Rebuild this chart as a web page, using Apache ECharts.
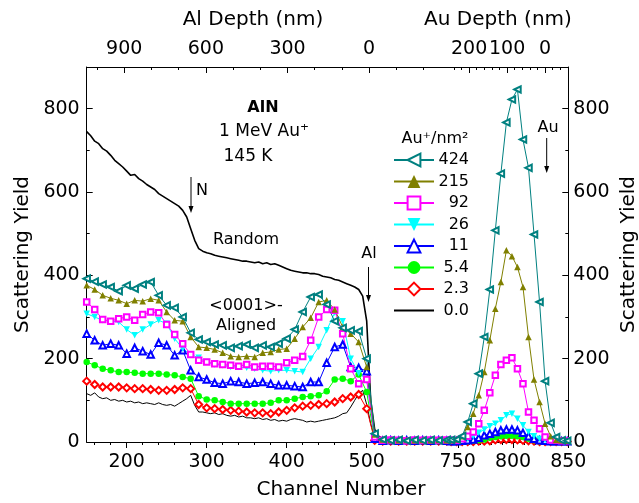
<!DOCTYPE html>
<html><head><meta charset="utf-8">
<script src="https://cdn.jsdelivr.net/npm/echarts@6/dist/echarts.min.js"></script>
<style>html,body{margin:0;padding:0;background:#fff}#c{width:639px;height:503px}</style>
</head><body><div id="c"></div>
<script>
// ---- channels ----
const chL = [150,160,170,180,190,200,210,220,230,240,250,260,270,280,290,300,310,320,330,340,350,360,370,380,390,400,410,420,430,440,450,460,470,480,490,500,510,520,530,540,550,560,570,580,590,600];
const chF = [150,155,160,165,170,175,180,185,190,195,200,205,210,215,220,225,230,235,240,245,250,255,260,265,270,275,280,285,290,295,300,305,310,315,320,325,330,335,340,345,350,355,360,365,370,375,380,385,390,395,400,405,410,415,420,425,430,435,440,445,450,455,460,465,470,475,480,485,490,495,500,505,510,515,520,525,530,535,540,545,550,555,560,565,570,575,580,585,590,595,600];
const chR = [739,744,749,754,759,764,769,774,779,784,789,794,799,804,809,814,819,824,829,834,839,844,849];

// ---- Random spectrum (fine channels) ----
const randomF = [745,735,722,716,704,698,688,676,668,660,
650,640,642,632,626,618,612,606,596,590,
584,578,572,566,556,540,512,484,464,458,
454,452,448,446,444,442,440,438,436,434,
434,432,430,432,428,430,426,428,424,420,
416,412,410,408,406,406,404,404,402,398,
396,394,390,388,384,380,376,372,366,350,
290,100,30,14,8,5,4,3,3,3,
3,3,3,3,3,3,3,3,3,3,3];

// ---- 0.0 (virgin aligned) ----
const y00F = [116,112,118,108,104,106,100,102,98,100,
96,98,94,96,92,94,92,90,94,90,
88,90,86,92,98,104,112,88,72,72,
70,68,70,66,68,64,62,64,60,62,
58,58,56,58,54,56,52,54,50,52,
50,54,56,54,52,48,50,48,50,52,
54,56,58,62,68,70,84,100,116,124,
90,44,10,4,2,2,2,2,2,2,
2,2,2,2,2,2,2,2,2,2,2];
const y00R = [1,1,1,1,1,1,1,1,1,1,1,1,1,1,1,1,1,1,1,1,1,1,1];

// ---- fluence series, left (Al/N) part ----
const y424L = [392,385,378,372,362,376,368,378,384,352,328,322,300,262,246,240,234,232,226,230,234,226,232,228,236,248,270,312,348,354,330,290,274,268,266,200,20,6,4,5,3,5,4,5,4,5];
const y215L = [376,366,352,345,340,332,340,338,344,340,312,292,290,252,228,226,222,214,206,204,206,204,214,216,222,224,248,276,298,336,340,318,276,260,240,180,18,6,5,4,5,4,5,4,5,4];
const y92L  = [336,318,294,290,296,300,292,306,312,310,282,258,236,210,196,192,188,186,184,182,186,180,182,182,180,190,196,205,244,300,318,316,260,176,140,150,12,4,5,4,3,5,4,5,4,5];
const y26L  = [308,300,292,290,288,270,256,270,282,292,284,248,224,210,202,192,186,184,180,180,178,176,172,170,172,172,170,168,200,228,268,310,290,200,165,150,10,4,3,4,3,4,3,4,3,4];
const y11L  = [260,244,232,236,232,212,226,218,210,238,232,208,220,172,156,150,142,140,146,144,140,142,144,140,136,136,134,132,144,144,190,228,234,180,178,170,8,3,4,3,4,3,4,3,4,3];
const y54L  = [192,184,176,172,168,168,166,164,164,164,162,160,156,152,110,102,100,96,92,92,92,92,92,94,100,100,104,108,110,112,122,150,152,146,162,120,6,2,3,2,3,2,3,2,3,2];
const y23L  = [146,138,132,132,132,130,128,128,126,124,124,126,130,128,90,82,80,78,76,74,72,70,70,68,72,76,82,86,88,90,92,96,104,108,114,80,4,2,2,2,2,2,2,2,2,2];

// ---- fluence series, right (Au) part ----
const y424R = [4,5,6,14,48,92,164,252,366,508,644,767,822,846,726,658,498,336,146,46,12,4,3];
const y215R = [4,4,6,14,36,68,112,168,244,320,384,460,446,420,372,252,150,96,44,14,5,4,3];
const y92R  = [3,4,4,8,14,24,44,76,118,160,186,196,202,176,140,72,52,32,12,5,4,3,3];
const y26R  = [3,3,4,5,8,14,22,30,38,44,52,64,68,56,40,24,14,8,4,3,3,3,3];
const y11R  = [2,2,2,3,4,6,10,16,20,24,28,30,30,28,22,14,8,4,3,2,2,2,2];
const y54R  = [1,1,1,1,2,3,4,6,10,12,14,15,15,14,12,8,4,2,1,1,1,1,1];
const y23R  = [1,1,1,1,1,1,2,2,3,5,6,6,6,5,4,3,2,1,1,1,1,1,1];

// ---- tick labels ----
const xLabelsL = [200,300,400,500];
const xLabelsR = [750,800,850];
const alDepthLabels = [900,600,300,0];
const auDepthLabels = [200,100,0];
const yLabels = [0,200,400,600,800];
const legendNames = ['424','215','92','26','11','5.4','2.3','0.0'];

const F = 'DejaVu Sans';
const chart = echarts.init(document.getElementById('c'), null, {renderer:'canvas'});

function range(a,b,s){const r=[];for(let v=a; s>0? v<=b : v>=b; v+=s) r.push(v);return r;}
function pairs(ch, v){return ch.map((c,i)=>[c, v[i]]);}
const black = {color:'#000', width:1};
function ax(o){
  const base = {type:'value', splitLine:{show:false}, axisTick:{show:false}, axisLabel:{show:false}};
  const r = Object.assign(base, o);
  r.axisLine = Object.assign({show:false, onZero:false}, o.axisLine||{});
  return r;
}
const lbl = (vals, margin) => ({show:true, customValues:vals, fontSize:19, fontFamily:F, color:'#000', margin:margin});

const xAxis = [
  ax({gridIndex:0, position:'bottom', min:150, max:600, axisLine:{show:true, lineStyle:black},
      axisTick:{show:true, length:6, customValues:xLabelsL, lineStyle:black}, axisLabel:lbl(xLabelsL, 11)}),
  ax({gridIndex:0, position:'bottom', min:150, max:600, axisTick:{show:true, length:3, customValues:range(160,600,20), lineStyle:black}}),
  ax({gridIndex:1, position:'bottom', min:740, max:850, axisLine:{show:true, lineStyle:black},
      axisTick:{show:true, length:6, customValues:xLabelsR, lineStyle:black}, axisLabel:lbl(xLabelsR, 11)}),
  ax({gridIndex:1, position:'bottom', min:740, max:850, axisTick:{show:true, length:3, customValues:range(740,850,10), lineStyle:black}}),
  ax({gridIndex:0, position:'top', inverse:true, min:-285, max:1038, axisLine:{show:true, lineStyle:black},
      axisTick:{show:true, inside:true, length:3, customValues:range(1000,-200,-100), lineStyle:black}, axisLabel:lbl(alDepthLabels, 8)}),
  ax({gridIndex:0, position:'top', inverse:true, min:-285, max:1038, axisTick:{show:true, inside:true, length:6, customValues:alDepthLabels, lineStyle:black}}),
  ax({gridIndex:1, position:'top', inverse:true, min:-61, max:259, axisLine:{show:true, lineStyle:black},
      axisTick:{show:true, inside:true, length:3, customValues:range(240,-60,-20), lineStyle:black}, axisLabel:lbl(auDepthLabels, 8)}),
  ax({gridIndex:1, position:'top', inverse:true, min:-61, max:259, axisTick:{show:true, inside:true, length:6, customValues:auDepthLabels, lineStyle:black}})
];
const nameStyle = {fontSize:20, fontFamily:F, color:'#000'};
const yAxis = [
  ax({gridIndex:0, position:'left', min:0, max:900, axisLine:{show:true, lineStyle:black},
      axisTick:{show:true, inside:true, length:6, customValues:yLabels, lineStyle:black}, axisLabel:lbl(yLabels, 7),
      name:'Scattering Yield', nameLocation:'middle', nameGap:47, nameTextStyle:nameStyle}),
  ax({gridIndex:0, position:'left', min:0, max:900, axisTick:{show:true, inside:true, length:3, customValues:[100,300,500,700], lineStyle:black}}),
  ax({gridIndex:1, position:'right', min:0, max:900, axisLine:{show:true, lineStyle:black},
      axisTick:{show:true, inside:true, length:6, customValues:yLabels, lineStyle:black}, axisLabel:lbl(yLabels, 5),
      name:'Scattering Yield', nameLocation:'middle', nameGap:50, nameTextStyle:nameStyle}),
  ax({gridIndex:1, position:'right', min:0, max:900, axisTick:{show:true, inside:true, length:3, customValues:[100,300,500,700], lineStyle:black}})
];

const series = [];
function add(name, chA, vA, chB, vB, color, symbol, rot, size, lw){
  [[chA,vA,0],[chB,vB,2]].forEach(([ch,v,ai])=>{
    if(!ch) return;
    series.push({type:'line', name:name, xAxisIndex:ai, yAxisIndex:ai, data:pairs(ch,v),
      symbol:symbol, symbolSize:size, symbolRotate:rot, showSymbol: symbol!=='none',
      lineStyle:{color:color, width:lw}, itemStyle:{color:color, borderWidth:1},
      emphasis:{disabled:true}, silent:true, z:2});
  });
}
add('Random', chF, randomF, null, null, '#000', 'none', 0, 0, 1.6);
add('0.0', chF, y00F, chR, y00R, '#000', 'none', 0, 0, 1);
add('2.3', chL, y23L, chR, y23R, '#ff0000', 'emptyDiamond', 0, 7, 1);
add('5.4', chL, y54L, chR, y54R, '#00ff00', 'circle', 0, 6.5, 1);
add('11', chL, y11L, chR, y11R, '#0000ff', 'emptyTriangle', 0, 6.5, 1);
add('26', chL, y26L, chR, y26R, '#00ffff', 'triangle', 180, 6.5, 1);
add('92', chL, y92L, chR, y92R, '#ff00ff', 'emptyRect', 0, 5.5, 1);
add('215', chL, y215L, chR, y215R, '#808000', 'triangle', 0, 6.5, 1);
add('424', chL, y424L, chR, y424R, '#008080', 'emptyTriangle', 90, 6.5, 1);

function txt(x, y, t, size, extra){
  return {type:'text', x:x, y:y, silent:true, style:Object.assign({text:t, fontSize:size, fontFamily:F, fill:'#000', align:'center', verticalAlign:'middle'}, extra||{})};
}
function arrow(x, y1, y2){
  return [
    {type:'line', silent:true, shape:{x1:x, y1:y1, x2:x, y2:y2-6}, style:{stroke:'#000', lineWidth:1}},
    {type:'polygon', silent:true, shape:{points:[[x-2.5,y2-7],[x+2.5,y2-7],[x,y2]]}, style:{fill:'#000'}}
  ];
}
const graphic = [
  txt(253, 20, 'Al Depth (nm)', 20),
  txt(498, 20, 'Au Depth (nm)', 20),
  txt(341, 490, 'Channel Number', 20),
  txt(263, 108, 'AlN', 16, {fontWeight:'bold'}),
  txt(264, 132, '1 MeV Au\u207A', 17),
  txt(248, 157, '145 K', 17),
  txt(202, 191, 'N', 16),
  txt(246, 240, 'Random', 16),
  txt(246, 306, '<0001>-', 16),
  txt(246, 326, 'Aligned', 16),
  txt(369, 254, 'Al', 16),
  txt(548, 128, 'Au', 16),
  txt(435, 139, 'Au\u207A/nm\u00B2', 16)
].concat(arrow(191, 177, 213), arrow(368.5, 267, 302), arrow(546.7, 138, 173));

const legendData = legendNames.map(n => n === '0.0' ? {name:n, itemStyle:{opacity:0}} : {name:n});

chart.setOption({
  animation:false,
  backgroundColor:'#fff',
  grid:[
    {left:86.7, top:67, width:360, height:375, outerBoundsMode:'none', containLabel:false},
    {left:446.7, top:67, width:121.6, height:375, outerBoundsMode:'none', containLabel:false}
  ],
  xAxis:xAxis, yAxis:yAxis, series:series,
  legend:{data:legendData, orient:'vertical', left:393, top:152, itemWidth:40, itemHeight:16, itemGap:5.5, padding:0,
    selectedMode:false, formatter:n=>'{n|'+n+'}',
    textStyle:{fontFamily:F, fontSize:16, color:'#000', rich:{n:{width:30, align:'right', fontFamily:F, fontSize:16, color:'#000'}}}},
  graphic:graphic
});
</script></body></html>
